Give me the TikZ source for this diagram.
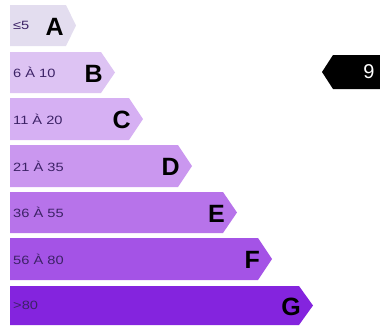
\documentclass[tikz,border=0pt]{standalone}
\usepackage{fontspec}
\setmainfont{Liberation Sans}
\newfontfamily\rangefont[FakeStretch=1.22]{Liberation Sans}
\definecolor{cA}{HTML}{E3DDEF}
\definecolor{cB}{HTML}{DDC3F3}
\definecolor{cC}{HTML}{D6B0F3}
\definecolor{cD}{HTML}{CA97EF}
\definecolor{cE}{HTML}{B773EA}
\definecolor{cF}{HTML}{A453E6}
\definecolor{cG}{HTML}{8424DE}
\definecolor{rangetxt}{HTML}{3C2266}
\tikzset{
  rangelabel/.style={anchor=west,inner sep=0pt,font=\rangefont\fontsize{12}{14}\selectfont,text=rangetxt},
  classletter/.style={anchor=east,inner sep=0pt,font=\fontsize{25}{28}\selectfont\bfseries,text=black},
}
\begin{document}
\begin{tikzpicture}[x=1pt,y=-1pt]
\useasboundingbox (0,0) rectangle (380,327);
% bars: top, bottom, body end, tip
\foreach \t/\b/\e/\p/\c/\r/\l/\n in {
  5/46/66/76/cA/≤5/A/a,
  52/93/101/115/cB/6 À 10/B/b,
  98/140/129/143/cC/11 À 20/C/c,
  145/187/178/192/cD/21 À 35/D/d,
  192/233/223/237/cE/36 À 55/E/e,
  238/280/258/272/cF/56 À 80/F/f,
  286/325/299/313/cG/>80/G/g}{
  \fill[\c] (10,\t) -- (\e,\t) -- (\p,{(\t+\b)/2}) -- (\e,\b) -- (10,\b) -- cycle;
  \node[rangelabel] (r\n) at (13,{(\t+\b)/2}) {\r};
  \node[classletter] (l\n) at ({\p-12},{(\t+\b)/2+1}) {\l};
}
% marker
\fill[black] (322,72) -- (333,55) -- (381,55) -- (381,89) -- (333,89) -- cycle;
\node[text=white,font=\fontsize{20}{22}\selectfont,inner sep=0pt] (val) at (369,72) {9};
\end{tikzpicture}
\end{document}
